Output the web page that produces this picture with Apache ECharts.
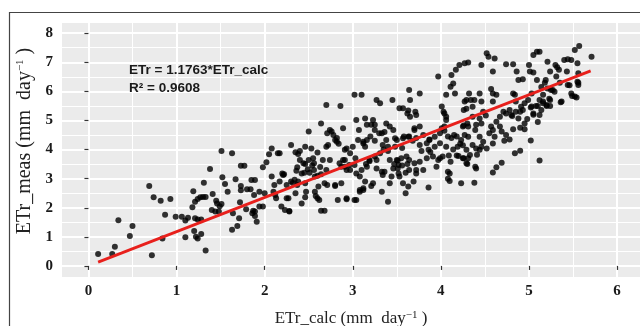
<!DOCTYPE html>
<html>
<head>
<meta charset="utf-8">
<script src="https://cdn.jsdelivr.net/npm/echarts@6/dist/echarts.min.js"></script>
<style>
  html, body { margin: 0; padding: 0; background: #fff; }
  #chart { width: 640px; height: 326px; }
</style>
</head>
<body>
<div id="chart"></div>
<script>
// ETr_calc vs ETr_meas
var etrCalc = [
  0.11, 0.27, 0.30, 0.34, 0.47, 0.50, 0.69, 0.72, 0.74, 0.82, 0.87, 0.84, 0.93, 0.99, 1.06, 1.10, 1.13, 1.10, 1.19, 1.18,
  1.21, 1.24, 1.20, 1.24, 1.28, 1.33, 1.27, 1.31, 1.30, 1.33, 1.38, 1.41, 1.45, 1.44, 1.46, 1.49, 1.52, 1.51, 1.63, 1.55,
  1.51, 1.58, 1.64, 1.63, 1.69, 1.71, 1.67, 1.73, 1.77, 1.73, 1.73, 1.72, 1.79, 1.85, 1.89, 1.84, 1.88, 1.86, 1.91, 1.89,
  1.98, 2.02, 2.05, 2.15, 2.08, 2.11, 2.10, 2.13, 2.19, 2.23, 2.20, 2.22, 2.17, 2.25, 2.27, 2.28, 2.30, 2.35, 2.38, 2.37,
  2.34, 2.37, 2.42, 2.46, 2.44, 2.50, 2.50, 2.53, 2.55, 2.56, 2.56, 2.57, 2.60, 2.46, 2.57, 2.60, 2.64, 2.64, 2.64, 2.68,
  2.62, 2.66, 2.70, 2.71, 2.71, 1.80, 1.94, 1.87, 1.94, 1.24, 1.48, 1.40, 1.21, 1.28, 1.22,
  1.89, 1.98, 2.00, 2.12, 2.21, 2.28, 2.25, 2.30, 2.32, 2.35, 2.36, 2.40, 2.46, 2.49, 2.51, 2.45, 2.54, 2.38, 2.46, 2.47,
  2.42, 2.61, 2.58, 2.68, 2.70, 2.74, 2.80, 2.83, 2.85, 2.89, 2.93, 2.96, 2.93, 3.04, 3.08, 3.12, 3.14, 3.08, 3.23, 3.27,
  3.15, 3.19, 3.33, 3.34, 3.36, 3.40, 3.42, 3.47, 3.51, 3.52, 3.53, 3.57, 3.60, 3.60, 3.62, 3.69, 3.86, 3.72, 3.99, 3.78,
  3.88,
  2.70, 2.86, 3.02, 3.10, 2.76, 2.78, 2.72, 2.82, 2.89, 2.91, 2.91, 2.87, 3.00, 3.03, 3.04, 3.07, 3.14, 3.16, 3.12, 3.16,
  3.23, 3.25, 3.27, 3.31, 3.20, 3.25, 3.30, 3.38, 3.36, 3.45, 3.34, 3.40, 3.48, 3.53, 3.57, 3.62, 3.65, 3.64, 3.65, 3.76,
  3.70, 3.58, 3.64, 3.48, 3.56, 3.72, 3.86, 3.87, 3.97, 4.01, 4.03, 4.06, 4.11, 4.14, 4.12, 4.17, 4.21, 4.27, 4.16, 4.27,
  4.29, 4.06, 4.01, 4.04, 4.08, 4.12, 4.15, 4.18, 4.26, 4.30, 4.06, 4.14, 4.19, 4.22, 4.09, 4.18, 4.26, 4.10, 4.08, 4.23,
  3.63, 2.80, 2.87, 2.93, 3.02, 3.08, 3.12, 3.21, 3.44, 3.51, 3.56, 2.63, 2.91, 2.97, 3.02, 3.04, 3.10, 3.16, 3.19, 3.25,
  3.31, 3.35, 3.40, 3.27, 3.33, 3.42, 3.50, 3.55, 3.61, 3.46, 3.52, 3.64, 3.70, 3.76, 3.84, 3.91, 3.97, 4.02, 3.64, 3.72,
  3.80, 3.95, 3.76, 3.84, 3.93, 3.99, 3.68,
  2.74, 3.63, 3.71, 3.72, 2.08, 2.17, 2.40, 2.60, 2.80, 2.82, 2.84, 2.93, 2.97, 3.06, 3.12, 3.14, 3.21, 3.25, 3.33, 3.38,
  3.42, 3.46, 3.50, 3.57, 3.63, 3.70, 3.76, 3.80, 3.87, 3.93, 3.99, 4.04, 4.06, 4.04,
  4.31, 4.46, 4.52, 4.54, 4.61, 4.59, 4.74, 4.82, 4.86, 4.88, 4.93, 5.00, 5.01, 5.05, 5.05, 5.09, 5.12, 5.21, 5.09, 5.24,
  5.30, 5.32, 5.34, 5.40, 5.44, 5.48, 5.52, 5.57, 5.55, 5.71, 5.31, 5.35, 5.56, 5.46, 5.48, 5.52, 5.54, 5.56, 5.36, 5.29,
  5.25, 5.21, 5.18, 5.14, 5.16, 5.12, 5.08, 5.16, 5.20, 5.24, 5.23, 5.03, 4.99, 5.03, 5.05, 4.95, 4.91, 4.90, 4.85, 4.84,
  4.82, 4.78, 4.80, 4.88, 4.74, 4.71, 4.67, 4.63, 4.59, 4.63, 4.59, 4.57, 4.44, 4.46, 4.38, 4.36, 4.32, 4.34, 4.29, 4.26,
  4.36, 4.44, 4.48, 4.51, 4.25, 4.31, 4.40, 4.39, 4.46, 4.27, 4.31, 4.23, 4.57, 4.59, 4.55, 4.44, 4.48, 4.67, 4.69, 4.61,
  4.59, 4.36, 4.40, 4.29, 4.33, 4.25, 4.31, 4.41, 4.44, 4.46, 4.52, 4.39, 4.30, 4.59, 4.63, 4.69, 4.84, 4.90, 5.12, 5.02,
  4.25, 4.74, 4.78, 4.82, 4.72, 4.90, 4.95, 4.98, 5.10, 4.95,
  5.43, 5.55, 5.56, 5.44, 5.49, 5.37, 5.27, 5.19, 5.24, 5.20, 5.16, 5.10, 5.02, 5.14, 5.12, 5.05, 4.93, 4.85, 4.81,
  4.40, 4.38, 4.10, 4.08, 4.11, 4.29, 4.20
];
var etrMeas = [
  0.41, 0.41, 0.66, 1.57, 1.03, 1.37, 2.75, 0.37, 2.36, 2.24, 1.76, 0.94, 2.30, 1.69, 1.69, 1.56, 1.66, 0.99, 2.57, 2.02,
  2.21, 1.60, 1.20, 0.94, 1.10, 0.53, 2.36, 2.86, 2.37, 2.37, 3.33, 2.47, 2.24, 1.87, 2.15, 2.05, 3.05, 3.95, 3.87, 2.82,
  2.13, 2.55, 1.81, 1.24, 1.37, 1.64, 2.98, 3.44, 3.44, 2.75, 2.60, 2.19, 1.95, 2.95, 2.95, 2.64, 2.44, 1.81, 1.52, 1.72,
  3.39, 3.56, 3.84, 3.87, 3.07, 2.78, 2.55, 2.33, 2.04, 1.92, 3.18, 3.15, 2.90, 2.78, 2.33, 1.89, 4.16, 3.91, 3.85, 3.39,
  2.96, 2.78, 3.18, 4.10, 3.53, 4.62, 3.64, 4.04, 3.70, 3.53, 3.30, 3.07, 3.10, 2.36, 2.55, 2.33, 4.90, 3.15, 1.90, 1.90,
  2.27, 3.64, 4.10, 2.78, 4.56, 2.64, 2.55, 1.90, 2.04, 2.30, 1.87, 1.92, 1.64, 1.60, 1.00,
  1.87, 2.04, 2.50, 2.44, 3.13, 1.87, 2.33, 2.90, 2.85, 2.50, 3.27, 3.64, 3.50, 3.32, 3.20, 3.20, 3.45, 2.90, 2.84, 2.55,
  2.15, 2.73, 2.40, 2.84, 3.30, 3.64, 2.78, 2.27, 3.53, 3.64, 3.30, 3.47, 2.29, 2.27, 2.55, 2.61, 2.90, 3.07, 2.84, 3.64,
  3.50, 3.60, 2.55, 3.13, 3.24, 2.21, 2.84, 3.50, 3.62, 3.18, 3.07, 2.84, 3.20, 2.50, 3.50, 2.90, 2.70, 3.30, 3.70, 3.95,
  3.92,
  5.53, 5.50, 5.88, 5.88, 4.62, 4.50, 4.16, 4.27, 4.73, 3.99, 3.64, 3.41, 4.10, 3.70, 5.02, 4.67, 5.07, 4.85, 4.27, 4.33,
  5.02, 4.85, 5.70, 5.59, 4.45, 4.30, 4.56, 4.90, 4.60, 5.70, 4.16, 4.10, 4.39, 5.42, 5.42, 5.24, 5.13, 6.05, 5.70, 5.93,
  4.73, 4.45, 4.45, 4.10, 4.05, 4.40, 3.99, 4.35, 6.51, 5.48, 5.30, 5.88, 6.16, 6.27, 6.56, 6.74, 6.91, 6.97, 5.93, 5.65,
  5.40, 5.13, 4.73, 4.65, 4.45, 4.40, 4.50, 4.45, 4.83, 4.90, 4.10, 4.00, 4.10, 4.20, 3.80, 3.80, 3.70, 3.18, 3.00, 2.84,
  2.73, 2.75, 2.84, 2.33, 2.27, 2.61, 2.67, 2.75, 3.07, 3.35, 3.45, 3.40, 3.41, 3.30, 3.47, 3.18, 3.30, 3.41, 3.64, 3.76,
  3.87, 4.00, 3.95, 3.35, 3.24, 3.64, 3.64, 3.70, 3.76, 3.35, 3.47, 3.64, 3.53, 3.58, 3.70, 3.76, 3.64, 3.76, 3.30, 3.18,
  3.30, 3.41, 4.16, 4.22, 4.10, 4.22, 4.30,
  4.67, 5.34, 5.30, 5.19, 4.04, 3.87, 3.95, 3.90, 4.33, 4.40, 4.20, 4.04, 3.87, 4.33, 4.21, 4.10, 4.85, 4.67, 4.56, 4.33,
  4.79, 4.67, 4.33, 4.39, 4.44, 4.67, 4.79, 4.50, 4.33, 4.44, 4.56, 4.79, 5.02, 5.24,
  6.99, 6.91, 7.31, 7.19, 7.13, 6.68, 6.93, 6.93, 6.68, 6.39, 6.42, 6.91, 6.68, 6.65, 7.25, 7.36, 7.36, 7.02, 6.39, 6.68,
  6.91, 6.83, 6.74, 7.08, 7.10, 7.08, 7.42, 7.56, 6.97, 7.19, 6.51, 6.30, 6.62, 6.21, 5.93, 5.82, 5.79, 6.30, 5.63, 5.99,
  6.05, 6.10, 6.30, 6.15, 5.88, 5.70, 5.50, 5.65, 5.50, 5.50, 5.75, 5.93, 5.70, 5.48, 5.24, 5.59, 5.47, 5.30, 5.65, 5.88,
  5.93, 5.36, 5.19, 5.07, 5.24, 5.30, 5.13, 4.96, 5.93, 5.88, 5.65, 6.08, 5.93, 5.65, 5.70, 5.47, 5.93, 5.70, 5.70, 5.36,
  5.13, 5.07, 5.30, 5.17, 4.79, 4.79, 4.85, 4.67, 4.90, 4.50, 4.44, 4.33, 4.79, 4.67, 4.56, 4.44, 4.27, 4.79, 4.62, 4.44,
  4.21, 4.16, 4.04, 3.99, 3.81, 3.70, 3.70, 3.82, 3.99, 4.10, 4.04, 3.41, 3.50, 3.21, 3.39, 3.55, 3.87, 3.96, 3.62, 4.31,
  4.15, 4.50, 4.35, 4.70, 4.30, 4.75, 4.90, 5.05, 4.95, 4.70,
  6.68, 6.33, 6.22, 6.22, 5.84, 5.65, 6.05, 6.39, 5.70, 5.53, 5.59, 5.50, 5.45, 5.36, 5.19, 5.20, 5.36, 5.30, 5.15,
  3.35, 2.86, 2.92, 3.24, 3.58, 3.53, 3.78
];

// fitted line ETr = 1.1763 * ETr_calc over the data range
var fitSlope = 1.1763;
var fitRange = [0.11, 5.70];

var xTicks = [0, 1, 2, 3, 4, 5, 6];
var yTicks = [0, 1, 2, 3, 4, 5, 6, 7, 8];

var points = etrCalc.map(function (x, i) { return [x, etrMeas[i]] });
var fitLine = fitRange.map(function (x) { return [x, fitSlope * x] });

var serif = '"Liberation Serif", "DejaVu Serif", serif';
var tickLabel = { fontFamily: serif, fontWeight: 'bold', fontSize: 15, color: '#1a1a1a' };
var supStyle = { fontFamily: serif, fontSize: 11, color: '#222', verticalAlign: 'top', lineHeight: 12 };

// hidden axis that only draws the thin half-step grid lines
function minorAxis (min, max, pos, splits) {
  return {
    type: 'value', min: min, max: max, position: pos, splitNumber: splits,
    axisLine: { show: false }, axisTick: { show: false }, axisLabel: { show: false },
    splitLine: { show: true, showMinLine: false, showMaxLine: false, lineStyle: { color: '#fff', width: 1 } }
  }
}

var chart = echarts.init(document.getElementById('chart'));
chart.setOption({
  animation: false,
  grid: {
    left: 62, right: 0, top: 23, bottom: 49, outerBoundsMode: 'none',
    show: true, backgroundColor: '#ebebeb', borderWidth: 0
  },
  xAxis: [
    minorAxis(-0.3, 6.26, 'top', 13),
    {
      type: 'value', min: -0.3, max: 6.26, position: 'bottom',
      axisLine: { show: false },
      axisTick: { customValues: xTicks, length: 4, lineStyle: { color: '#333', width: 1.2 } },
      axisLabel: Object.assign({ customValues: xTicks, margin: 7 }, tickLabel),
      splitLine: { show: true, lineStyle: { color: '#fff', width: 2 } },
      name: 'ETr_calc (mm  day{s|\u22121} )',
      nameLocation: 'middle',
      nameGap: 33,
      nameTextStyle: { fontFamily: serif, fontSize: 17, color: '#222', rich: { s: supStyle } }
    }
  ],
  yAxis: [
    minorAxis(-0.38, 8.35, 'right', 17),
    {
      type: 'value', min: -0.38, max: 8.35, position: 'left',
      axisLine: { show: false },
      axisTick: { customValues: yTicks, length: 4, lineStyle: { color: '#333', width: 1.2 } },
      axisLabel: Object.assign({ customValues: yTicks, margin: 9 }, tickLabel),
      splitLine: { show: true, lineStyle: { color: '#fff', width: 2 } },
      name: 'ETr_meas (mm  day{s|\u22121} )',
      nameLocation: 'middle',
      nameGap: 24,
      nameTextStyle: { fontFamily: serif, fontSize: 20, color: '#222', padding: [0, 0, 0, 18], rich: { s: supStyle } }
    }
  ],
  series: [
    {
      type: 'scatter',
      xAxisIndex: 1,
      yAxisIndex: 1,
      data: points,
      symbolSize: 6,
      itemStyle: { color: '#000' },
      z: 3
    },
    {
      type: 'line',
      xAxisIndex: 1,
      yAxisIndex: 1,
      data: fitLine,
      showSymbol: false,
      lineStyle: { color: '#e8201c', width: 2.8 },
      z: 4
    }
  ],
  graphic: [
    {
      type: 'text', left: 129, top: 63, z: 100,
      style: { text: 'ETr = 1.1763*ETr_calc', font: 'bold 13.5px "Liberation Sans", Arial, sans-serif', fill: '#1a1a1a' }
    },
    {
      type: 'text', left: 129, top: 81, z: 100,
      style: { text: 'R\u00b2 = 0.9608', font: 'bold 13.5px "Liberation Sans", Arial, sans-serif', fill: '#1a1a1a' }
    },
    {
      type: 'rect', silent: true, z: 100,
      shape: { x: 9.5, y: 12.5, width: 700, height: 400 },
      style: { fill: 'transparent', stroke: '#444', lineWidth: 1.2 }
    }
  ]
});
</script>
</body>
</html>
